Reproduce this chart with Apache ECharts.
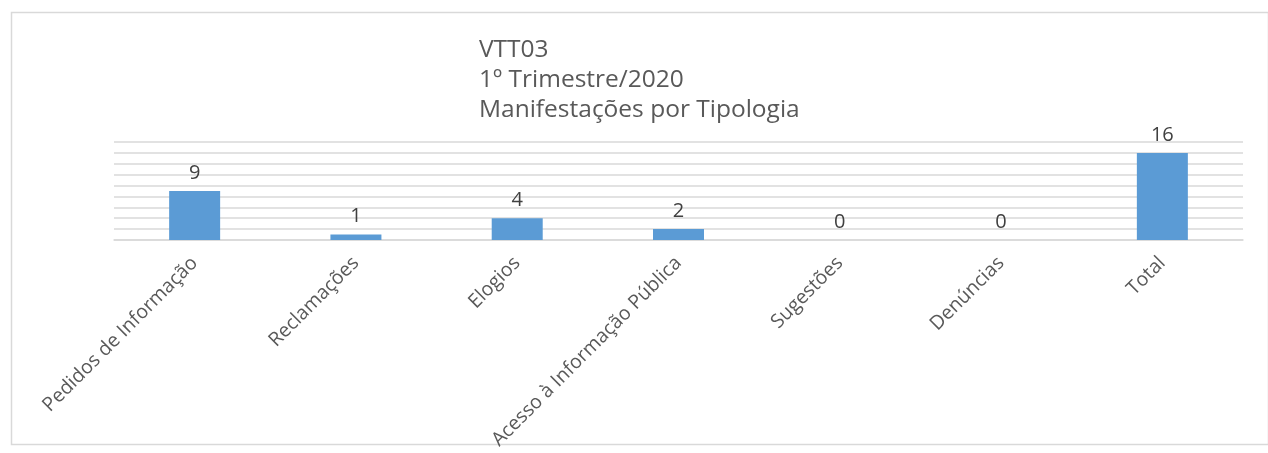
<!DOCTYPE html>
<html><head><meta charset="utf-8">
<script src="https://cdn.jsdelivr.net/npm/echarts@6/dist/echarts.min.js"></script>
<style>html,body{margin:0;padding:0;background:#fff}#c{width:1268px;height:453px}</style>
</head><body><div id="c"></div>
<script>
const titleLines = ['VTT03', '1º Trimestre/2020', 'Manifestações por Tipologia'];
const categories = ['Pedidos de Informação', 'Reclamações', 'Elogios', 'Acesso à Informação Pública', 'Sugestões', 'Denúncias', 'Total'];
const values = [9, 1, 4, 2, 0, 0, 16];
const yMin = 0, yMax = 18, yInterval = 2;

const chart = echarts.init(document.getElementById('c'));
chart.setOption({
  animation: false,
  graphic: [{
    type: 'rect', left: 9, top: 10,
    shape: { width: 1257, height: 432 },
    style: { fill: 'none', stroke: '#d9d9d9', lineWidth: 1.5 },
    silent: true
  }],
  title: {
    text: titleLines.join('\n'),
    left: 474, top: 30,
    textStyle: { fontFamily: 'Open Sans', fontSize: 24.5, fontWeight: 'normal', color: '#595959', lineHeight: 30 }
  },
  grid: { left: 114, right: 25, top: 142, bottom: 213 },
  xAxis: {
    type: 'category', data: categories,
    axisLine: { show: true, lineStyle: { color: '#d9d9d9', width: 1.5 } },
    axisTick: { show: false },
    axisLabel: { rotate: 45, interval: 0, margin: 20, fontFamily: 'Open Sans', fontSize: 19.5, color: '#595959' }
  },
  yAxis: {
    type: 'value', min: yMin, max: yMax, interval: yInterval,
    axisLabel: { show: false }, axisLine: { show: false }, axisTick: { show: false },
    splitLine: { lineStyle: { color: '#d9d9d9', width: 1.5 } }
  },
  series: [{
    type: 'bar', data: values, barWidth: 51,
    itemStyle: { color: '#5b9bd5' },
    label: { show: true, position: 'top', distance: 8, fontFamily: 'Open Sans', fontSize: 20, color: '#404040' }
  }]
});
</script></body></html>
